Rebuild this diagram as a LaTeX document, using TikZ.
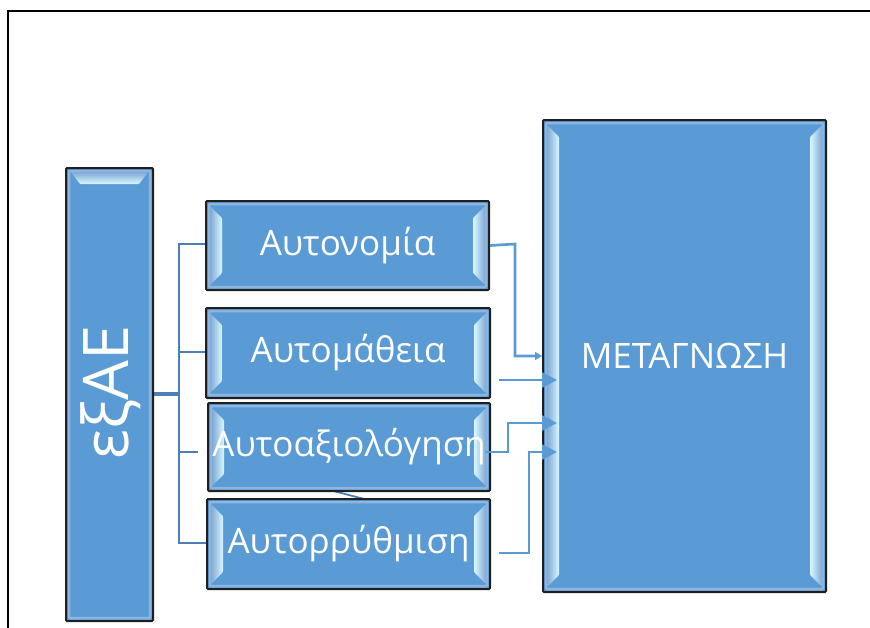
\documentclass[tikz,border=0pt]{standalone}
\usepackage{fontspec}
\setmainfont{Open Sans}
\usetikzlibrary{calc,arrows.meta}

\definecolor{boxfill}{HTML}{5B9BD5}
\definecolor{bandout}{HTML}{7FA9D6}
\definecolor{bandin}{HTML}{DAF8FF}
\definecolor{ringblue}{HTML}{8DB5DF}
\definecolor{trunk}{HTML}{4C7FB6}
\definecolor{feedblue}{HTML}{5B9BD5}

% bevel highlights on the left and right inner edges of a box
\newcommand\sidebevel[1]{%
  \draw[ringblue, line width=2.5pt] ($(#1.north west)+(3,3)$) rectangle ($(#1.south east)+(-3,-3)$);
  \shade[left color=bandout, right color=bandin]
    ($(#1.north west)+(4,5)$) -- ($(#1.north west)+(16,17)$) --
    ($(#1.south west)+(16,-17)$) -- ($(#1.south west)+(4,-5)$) -- cycle;
  \shade[left color=bandin, right color=bandout]
    ($(#1.north east)+(-4,5)$) -- ($(#1.north east)+(-16,17)$) --
    ($(#1.south east)+(-16,-17)$) -- ($(#1.south east)+(-4,-5)$) -- cycle;
}
% bevel highlight along the top inner edge of a box
\newcommand\topbevel[1]{%
  \draw[ringblue, line width=2.5pt] ($(#1.north west)+(3,3)$) rectangle ($(#1.south east)+(-3,-3)$);
  \shade[top color=bandout, bottom color=bandin]
    ($(#1.north west)+(5,4)$) -- ($(#1.north east)+(-5,4)$) --
    ($(#1.north east)+(-14,16)$) -- ($(#1.north west)+(14,16)$) -- cycle;
}

\tikzset{
  boxbase/.style={draw=black!88, line width=2pt, fill=boxfill, rounded corners=1pt,
    inner sep=0pt, text=white, anchor=north west,
    font=\fontsize{35}{40}\selectfont},
  hbox/.style={boxbase, path picture={\sidebevel{path picture bounding box}}},
  vbox/.style={boxbase, path picture={\topbevel{path picture bounding box}}},
  trunkline/.style={draw=trunk, line width=2.7pt},
  feed/.style={draw=feedblue, line width=2.7pt, -{Triangle[length=15pt,width=15pt]}},
  feedsmall/.style={draw=feedblue, line width=2.7pt, -{Triangle[length=7pt,width=8pt]}},
}

\begin{document}
\begin{tikzpicture}[x=1pt, y=-1pt]
\useasboundingbox (0,0) rectangle (870,627);

% outer frame (left and top edges)
\coordinate (f1) at (8,640);
\coordinate (f2) at (8,11);
\coordinate (f3) at (880,11);
\draw[line width=2.8pt] (f1) -- (f2) -- (f3);

% hub of the tree on the left
\coordinate (hub) at (179,394);

% short stray link between the lower two boxes
\coordinate (d1) at (318,487);
\coordinate (d2) at (372,501);
\draw[trunkline, line width=1.8pt] (d1) -- (d2);

% tree connectors (behind the boxes)
\coordinate (a1w) at (205,244);
\coordinate (a2w) at (205,352);
\coordinate (a3w) at (198,452);
\coordinate (a4w) at (206,543);
\draw[trunkline, line width=3.6pt] (152,394) -- (hub);
\draw[trunkline] (a1w) -- (a1w -| hub) |- (a4w);
\draw[trunkline] (a2w -| hub) -- (a2w);
\draw[trunkline] (a3w -| hub) -- (a3w);

% boxes
\node[vbox, minimum width=87pt, minimum height=453pt] (src) at (65,167) {};
\node[rotate=90, text=white, font=\fontsize{63}{70}\selectfont] (srclabel) at ($(src.center)+(1,-2)$) {εξΑΕ};

\node[hbox, minimum width=283pt, minimum height=89pt] (a1) at (205,200) {Αυτονομία};
\node[hbox, minimum width=284pt, minimum height=90pt] (a2) at (205,307) {Αυτομάθεια};
\node[hbox, minimum width=282pt, minimum height=88pt] (a3) at (207,402) {Αυτοαξιολόγηση};
\node[hbox, minimum width=283pt, minimum height=90pt] (a4) at (206,498) {Αυτορρύθμιση};

\node[hbox, minimum width=283pt, minimum height=472pt] (meta) at (542,119) {ΜΕΤΑΓΝΩΣΗ};

% arrows into the right box
\coordinate (j1) at (515,244);
\draw[feedsmall] (a1.east) -- (j1) |- (meta.west);

\coordinate (s2) at (499,380);
\coordinate (t2) at (557,380);
\draw[feed] (s2) -- (t2);

\coordinate (s3) at (485,452);
\coordinate (j3) at (508,452);
\coordinate (t3) at (557,423);
\draw[feed] (s3) -- (j3) |- (t3);

\coordinate (s4) at (499,553);
\coordinate (j4) at (529,553);
\coordinate (t4) at (557,452);
\draw[feed] (s4) -- (j4) |- (t4);
\end{tikzpicture}
\end{document}
